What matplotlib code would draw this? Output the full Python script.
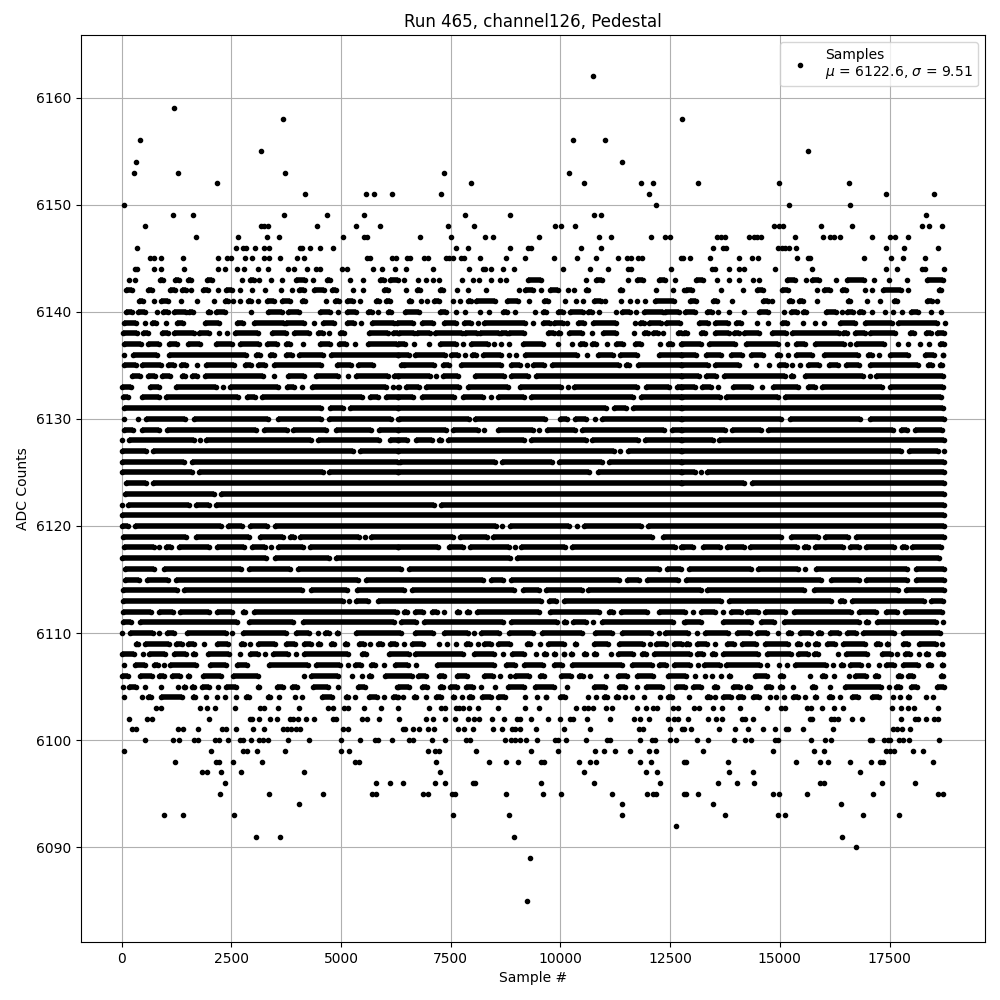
import matplotlib
matplotlib.use('Agg')
import matplotlib.pyplot as plt

# values, one list per ADC level.
# a number is a lone sample, a (first, last) pair is a stretch of samples
# too packed to tell apart, drawn as a solid stripe.
row_6162 = [10752]
row_6159 = [1186]
row_6158 = [3670, 12770]
row_6156 = [410, 10297, 11025]
row_6155 = [3170, 15637]
row_6154 = [320, 11412]
row_6153 = [274, 1277, 3716, 7341, 10206]
row_6152 = [2166, 7955, 10548, 11844, 12117, 13135, 14977, 16569]
row_6151 = [4172, 5563, 5746, 6156, 7273, 12026, 17410, 18502]
row_6150 = [68, 12185, 15205, 16592]
row_6149 = [1163, 1619, 3694, 4674, 5518, 7819, 8842, 10775, 10934, 18320]
row_6148 = [524, 3170, 3240, 3330, 4446, 5335, 5882, 7432, 8023, 9888, 10024, 10343,
            14863, 14977, 15068, 15932, 16637, 18229, 18388, 18684]
row_6147 = [1687, 2645, 3306, 3580, 5039, 5518, 5594, 6795, 7500, 8273, 8455, 9501, 10889,
            11161, 12071, 12389, 12503, 13567, 13650, 13749, 14295, 14409, 14490, 14568,
            15341, 15978, 16137, 16228, 16364, 17092, 17501, 17615, 17911]
row_6146 = [342, 2600, 2760, 2842, 3032, 3238, 3352, 4060, 4112, 4286, 4514, 4811, 7614, 7887,
            8842, 9251, 9319, 10479, 10934, 13476, 13704, 13772, 14954, 15040, 15120, 15210,
            15364, 17410, 17820, 18593]
row_6145 = [638, 730, 889, 1391, 2189, 2394, 2485, 2804, 2964, 3238, 3352, 3602, 3990, 4150,
            5594, 5670, 6156, 6247, 6500, 6568, 6886, 6977, 7387, 7455, 7546, 7743, 7796,
            8160, 8751, 9183, 9843, 10388, 10820, 11321, 11525, 11616, 11775, 11866, 12753,
            12800, 12953, 13408, 14068, 14363, 14500, 15386, 15637, 15682, 16910, 17524,
            17797, 18297]
row_6144 = [296, 350, 730, 889, 1414, 2189, 2348, 2622, 2782, 3101, 3329, 3785, 3922, 4218,
            4423, 4514, 5016, 5130, 5723, 5928, 6224, 6477, 7091, 7910, 8228, 8273, 8410,
            8683, 8933, 10070, 10684, 11093, 11548, 11616, 12526, 13454, 13522, 13840, 14068,
            14181, 14886, 15728, 17410, 17660, 18229, 18297, 18729]
row_6143 = [160, 296, (882, 935), (1224, 1300), (1505, 1588), (1946, 2060), 2736, (2934, 3010),
            3124, 3397, 3648, (3967, 4172), 4355, (4682, 4742), 5214, 5495, (5882, 5974),
            (6110, 6293), 6431, 6750, 6932, 7091, 7227, 7750, 8000, 8137, 8410, 8615, 8751,
            (9251, 9547), 10593, (10820, 10957), 11548, (11753, 11889), (12253, 12389), 12617,
            (13090, 13249), 13567, 13840, 14068, 14386, 14522, (15159, 15341), 15591,
            (15728, 15887), 16273, (16523, 16910), 17137, 17478, 17888, (18343, 18706)]
row_6142 = [(106, 243), (593, 692), (1094, 1224), (1368, 1459), 1573, (1847, 1961), 2189,
            (2371, 2508), 2690, 2964, 3260, 3625, 3876, (4036, 4150), (4378, 4606),
            (4788, 4880), 5267, 5495, (5974, 6065), 6477, (6727, 6795), (7250, 7318), 7637,
            7887, 8296, 9047, (9183, 9365), 9547, (9752, 9956), 10184, 10320, (10593, 10640),
            (11366, 11412), 12185, 12571, 12821, (12862, 12999), 13658, 14158, (14477, 14613),
            (15045, 15182), 15841, (16000, 16137), (16410, 16501), 16933, 17092,
            (17342, 17751), 17911, (18616, 18661)]
row_6141 = [(388, 479), 730, (889, 1049), 1345, 1710, 2098, (2348, 2417), 2531, 2690,
            (2873, 2941), 3101, (3306, 3466), (3648, 3830), (4104, 4172), 4651, (4856, 4948),
            (5130, 5267), 5426, (5791, 5860), (6019, 6110), (6545, 6591), 6818, 6955,
            (7114, 7227), 7546, 7720, (7887, 7955), (8069, 8501), (8774, 9024), 9274,
            (9615, 9706), 10115, 10366, 10525, (10775, 10934), 11025, 11389, 11593, 11753,
            11935, (12162, 12594), (12953, 13090), (13476, 13567), 13908, (14613, 14720), 14818,
            (15205, 15273), (15432, 15523), 15841, (16546, 16592), 16978, 17274, (17592, 17660),
            (18343, 18456), 18570]
row_6140 = [(91, 228), (365, 524), 798, (935, 1049), (1186, 1459), (1528, 1619), (1961, 2006),
            (2143, 2348), 2941, (3329, 3648), (3785, 4036), (4514, 4742), 4925, (5130, 5335),
            (5609, 5700), 5837, (6065, 6133), (6454, 6773), (7250, 7387), 7614, 7819, 8160,
            8364, (8683, 8774), 8956, 9411, (9592, 9683), (9956, 10070), (10229, 10525),
            (10640, 10729), 10889, 11275, (11412, 11593), 11730, (11912, 12344), (12389, 12708),
            (12840, 13067), (13340, 13454), 13590, 13840, 14181, (14522, 14727), 15091,
            (15250, 15386), (15523, 15591), (16046, 16273), 16410, (16523, 16660),
            (16796, 16887), 17092, 17388, 17570, 17774, (17979, 18138), 18434, 18661]
row_6139 = [(68, 319), 524, (684, 775), 1003, (1254, 1391), (1892, 2212), (2622, 2759),
            (3010, 3694), (3739, 4150), 4378, (4583, 4834), (5130, 5290), 5449, (5700, 6202),
            (6280, 6636), (6841, 7091), (7341, 7614), (7796, 7955), 8114, (8251, 9183),
            9365, (9592, 9752), (9843, 10070), 10161, (10411, 10548), (10752, 11275), 11707,
            (11821, 11912), (12026, 12299), (12412, 12731), (13158, 13363), (13522, 13817),
            (14000, 14113), 14477, 14727, (15045, 15159), 15523, 15796, 16000, (16364, 16705),
            (16933, 17547), (17683, 18570), 18752]
row_6138 = [(23, 350), (479, 593), (912, 1049), (1186, 1642), (1756, 1984), 2212, 2394,
            (2576, 3101), (3420, 3739), (3922, 4264), (4469, 4583), 4720, (4970, 5062),
            (5632, 6065), (6179, 6293), (6318, 6659), (6727, 7023), (7136, 7758), (7819, 8099),
            (8160, 8592), (8637, 8774), (8819, 9160), (9706, 9843), (9934, 10002),
            (10206, 10487), 10714, (10980, 11275), 11685, (11912, 12003), (12117, 12230), 12344,
            (12685, 12776), (12817, 12885), (13203, 13294), (13522, 13840), (13954, 14068),
            (14181, 14522), (14818, 15136), (15273, 16341), (16432, 16523), (16705, 16933),
            (17047, 17615), (17956, 18047), (18320, 18434), (18570, 18729)]
row_6137 = [(54, 441), (601, 844), (1080, 1254), (1513, 1779), (2144, 2508), (2691, 3139),
            (3314, 3534), (3755, 3846), 4127, (4515, 4758), (4948, 5115), 5313, (5609, 6278),
            (6303, 6469), 6659, 7008, (7251, 7621), 7773, (7955, 8341), 8493, 8637, 8819,
            (9145, 9592), 9956, 10267, (10457, 10562), (10722, 10820), 11070, (11268, 11426),
            (11700, 11828), 12268, (12443, 12548), 12776, (12741, 13195), (13393, 13984),
            (14227, 14954), 15167, (15364, 15576), (15804, 16470), 16599, (16744, 17380), 17683,
            17911, 18199, 18388, (18639, 18744)]
row_6136 = [68, (259, 806), (1080, 2835), (3071, 3162), (3375, 3466), (3755, 3876), (4044, 4583),
            (4781, 6293), (6303, 6545), (6697, 7379), (7516, 7659), 7826, (7986, 8076),
            (8236, 8645), 8819, 8986, (9183, 10388), 10616, (10851, 11199), (11367, 11752),
            (12238, 12776), (12741, 13097), (13317, 13665), (13886, 14135), (14348, 14613),
            (14940, 14992), 15182, (15364, 15727), (16001, 16788), (17009, 17092), 17259,
            (17517, 17926), (18298, 18517), (18714, 18721)]
row_6135 = [(54, 327), (472, 897), (1057, 1186), (1361, 1467), 1718, (1931, 2569), (2813, 2949),
            (3117, 3268), (3481, 4545), (4910, 5229), (5389, 5723), 6430, (6364, 7129),
            (7326, 7470), (7728, 8645), (8880, 9077), 9236, (9373, 9630), (9805, 11335),
            (11495, 11563), (11761, 12760), (12741, 13362), (13522, 14060), 14447, 14750,
            (14985, 15144), 15280, 15470, (15645, 15902), (16122, 16318), (16516, 16811),
            (17062, 18153), (18373, 18456), (18639, 18683)]
row_6134 = [(244, 426), (601, 768), (920, 1110), (1384, 1444), (1612, 1718), (1893, 3215), 3480,
            (3793, 4150), (4439, 4941), 5153, (5351, 6065), (6210, 6293), (6303, 7030), 7167,
            (7326, 7659), (8062, 8720), (8865, 9251), (9449, 12776), (12741, 13150),
            (13317, 13552), (13727, 15106), (15243, 15295), (15569, 16887), 17047, (17198, 18721)]
row_6133 = [(16, 213), (654, 859), (1232, 2151), 2303, (2478, 3557), (3770, 3922), 4104,
            (4340, 6027), 6187, 6300, 6333, (6493, 6787), (6947, 7697), (7895, 8796),
            (9070, 10009), 10168, (10305, 11737), (11950, 12473), (12655, 12776), (12741, 13060),
            (13219, 13438), 13590, (13939, 14348), 14598, (14833, 15424), (15645, 15803),
            (15970, 17319), (17502, 18721)]
row_6132 = [(31, 137), (472, 844), (1004, 2645), (2858, 3040), (3208, 5472), (5670, 5837),
            (6035, 6293), (6303, 6636), (6849, 7568), (7781, 8228), 8425, (8577, 9175),
            (9335, 11654), (11836, 12776), (12741, 13627), (13772, 14969), (15122, 18668)]
row_6131 = [(46, 4545), (4743, 5039), (5199, 6293), (6303, 11032), (11215, 11487), (11655, 12776),
            (12741, 18721)]
row_6130 = [46, 380, (548, 1452), (1650, 3344), (3565, 4545), (4728, 6141), 6301, (6326, 7909),
            (8062, 9653), (10002, 10161), (10336, 10593), 10790, (10942, 12776), (12741, 15030),
            (15228, 16834), (17062, 18744)]
row_6129 = [(46, 251), (472, 859), (1034, 3063), (3238, 3763), (3907, 4659), (4880, 5685),
            (5868, 6293), (6303, 7394), (7554, 8114), 8251, (8577, 9365), 9509, (9699, 10335),
            (10487, 12359), (12534, 12776), (12741, 13741), (13901, 14575), (14735, 17569),
            (17767, 17895), (18070, 18683)]
row_6128 = [8, (168, 1642), 1786, (1931, 4317), (4477, 5875), (6126, 6293), (6303, 6499),
            (6720, 7075), (7228, 7280), (7440, 9175), (9335, 10577), (10722, 11775), (11927, 12776),
            (12741, 13476), (13621, 18744)]
row_6127 = [(16, 555), (715, 5267), (5427, 6293), (6303, 11222), 11366, (11548, 12776),
            (12741, 17759), (17941, 18592), 18737]
row_6126 = [(16, 1429), (1604, 6293), (6341, 8516), (8668, 9819), (9979, 10957), (11108, 12776),
            (12741, 18744)]
row_6125 = [(0, 1596), (1764, 4583), (4728, 6293), (6303, 10653), (10851, 12776), (12741, 13059),
            13196, (13348, 18744)]
row_6124 = [(92, 555), (715, 12776), (12741, 14181), (14356, 18744)]
row_6123 = [(77, 2113), (2273, 18744)]
row_6122 = [8, (153, 1528), (1688, 2000), (2159, 7129), (7288, 18744)]
row_6121 = [(16, 18744)]
row_6120 = [(16, 137), (297, 2265), (2425, 2744), (2919, 3314), (3497, 8531), 8668, (8842, 10198),
            10381, (10548, 11828), (12003, 18744)]
row_6119 = [(31, 1467), (1688, 2911), (3147, 3671), (3831, 3922), (4074, 5419), 5548, (5693, 7545),
            (7713, 8319), (8463, 12093), (12329, 15030), (15243, 15864), (16024, 16561), (16744, 18744)]
row_6118 = [(54, 730), 852, (1019, 1125), (1308, 2000), (2174, 2782), (2980, 3268), 3398,
            (3573, 4135), (4287, 6293), (6303, 7204), (7463, 7773), (7933, 8834), 8956, (9108, 10107),
            (10260, 12609), 12784, (12741, 13021), (13257, 13627), (13787, 14181), (14318, 15394),
            (15546, 15636), (15796, 16432), (16592, 16811), (16956, 17607), (17790, 17872),
            (18017, 18668)]
row_6117 = [(0, 3291), (3489, 4735), (4895, 8849), (9017, 18630)]
row_6116 = [(69, 745), (958, 2721), (2904, 3846), (4021, 6371), (6553, 12245), (12420, 12756),
            (12938, 14332), (14508, 15409), 15584, (15819, 17895), (18108, 18744)]
row_6115 = [(69, 403), (578, 1049), (1232, 5381), (5579, 8243), (8425, 8682), (8865, 11335),
            (11518, 11790), (11973, 12685), (12863, 15939), (16175, 16811), (16956, 17895),
            (18093, 18744)]
row_6114 = [(31, 1262), (1422, 4104), (4325, 5138), (5366, 6439), (6621, 8948), (9146, 9516),
            (9676, 10486), (10639, 13211), (13348, 15545), (15773, 17698), (17866, 18744)]
row_6113 = [(31, 5039), 5183, (5351, 5609), (5845, 9554), (9729, 9895), (10078, 13665),
            (13848, 16167), (16380, 16470), (16653, 18274), (18449, 18706)]
row_6112 = [(31, 669), (852, 1163), (1323, 2000), (2174, 2508), (2767, 2812), (3010, 6255), 6272,
            (6440, 6514), (6697, 6878), (7076, 7182), 7349, (7652, 7697), (7880, 7909), (8107, 9516),
            (9752, 10881), (11116, 11199), (11382, 11980), (12238, 12847), 13014, (13196, 13514),
            13711, (13878, 14105), (14257, 14499), (14659, 15121), (15326, 16622), (16804, 17190),
            (17426, 17660), (17843, 18683)]
row_6111 = [(31, 227), (426, 2622), (2904, 3899), (4135, 6217), (6377, 6712), (6894, 8682),
            (8880, 9933), (10093, 10122), (10283, 10593), 10752, (10942, 12563), 12806,
            (12840, 13211), (13696, 14348), (14561, 14863), (15099, 16811), (16971, 17016),
            (17214, 18555), 18714]
row_6110 = [8, (198, 707), 852, (1034, 1186), (1490, 2379), 2515, (2767, 3747), (3968, 4279), 4477,
            (4644, 4735), (4910, 4941), (5351, 6371), (6682, 7091), (7349, 7886), 8023, (8198, 8607),
            (8827, 9365), (9578, 10502), (10790, 11184), (11397, 12055), 12253, (12390, 12907), 13105,
            (13295, 13817), (14030, 14310), (14485, 14711), 14954, (15190, 15257), (15470, 15712),
            (15872, 15939), (16137, 16356), (16531, 16735), (16895, 17592), (17805, 18653)]
row_6109 = [(320, 380), (533, 1072), (1247, 1368), (1521, 1657), 1885, (2174, 2432), (2729, 2797),
            2919, (3109, 3504), (3755, 3952), (4158, 4317), (4477, 4522), (4781, 4849), (5085, 5130),
            (5412, 5518), 5655, (5845, 5928), (6111, 6255), 6432, (6621, 6878), 7227, 7424, 7614,
            (7857, 7947), 8122, (8259, 8425), (8577, 8849), (9244, 9304), 9539, (9714, 10085),
            (10336, 10365), (10760, 11093), (11329, 11881), 12033, (12178, 12397), (12579, 12776),
            (12863, 12930), (13120, 13347), 13529, (13803, 13953), (14144, 14446), (14659, 15181),
            (15394, 15469), (15622, 15651), (15796, 15864), (16077, 16258), (16440, 16940),
            (17183, 17289), (17441, 17471), (17805, 17910), (18161, 18555), 18691]
row_6108 = [(16, 289), 479, (624, 988), (1194, 1467), (1627, 1672), (1969, 2455), 2706, (2934, 3101),
            3261, (3451, 3785), 3975, (4158, 5153), (5488, 5571), (6096, 6545), (6697, 7788),
            (8031, 8478), 8683, (8895, 9175), 9433, (9623, 9683), (9851, 9880), (10078, 10092),
            (10245, 10274), (10548, 10593), (10775, 10805), 11146, (11306, 11654), (11852, 11942),
            (12139, 12961), (13120, 13249), (13446, 13514), (13696, 14499), (14712, 15257),
            (15417, 15651), (15773, 15864), 16327, (16516, 16978), (17327, 17531), 17661,
            (17843, 17971), 18160, (18335, 18380), (18601, 18721)]
row_6107 = [61, (305, 540), (730, 821), 973, (1110, 1695), (2007, 2387), (2630, 2858), (3360, 4241),
            (4439, 4986), 5153, (5313, 5457), (5693, 5776), 5974, (6225, 6522), 6704, (7197, 8493),
            (8751, 8970), (9168, 9592), (9851, 10047), (10260, 11396), (11624, 12093), (12254, 12397),
            (12579, 12945), 13135, (13280, 13627), (13772, 14537), 14712, 14977, 15159, (15341, 16053),
            16205, (16403, 16432), (16607, 16849), 16999, 17251, (17426, 17607), (17805, 18138),
            (18373, 18441), (18684, 18721)]
row_6106 = [(16, 152), (411, 684), (852, 958), (1156, 1323), (1521, 1543), (1855, 2265), (2539, 3116),
            4150, (4325, 4940), 5251, 5472, (5640, 5685), (5997, 6620), (6758, 6939), (7228, 7356),
            (7652, 7864), (8259, 8455), 8622, 8860, (8971, 9274), (9540, 9630), (10017, 10236),
            (10434, 10517), 10665, 11050, (11321, 11525), (11745, 12109), (12443, 12862), 13059,
            13287, 13461, 13651, (13833, 13855), (14424, 14711), (15008, 15068), 15682, (15970, 16030),
            16243, 16570, (16713, 16970), (17161, 17228), (17691, 17759), (17919, 18039), (18677, 18706)]
row_6105 = [23, (168, 327), 540, 897, 1277, (1414, 1444), (1612, 1642), (1840, 2000), 2204, (2372, 2615),
            (3109, 3139), (3542, 3671), (3892, 3990), (4363, 4712), 4933, (5389, 5556), 6286, (6303, 6560),
            (6849, 6954), (7251, 7318), (7478, 7636), (7857, 8000), 8182, 8501, (8805, 9175), (9411, 9857),
            10161, (10776, 11017), (11344, 11472), 11737, (11950, 12321), (12632, 12832), (13029, 13195),
            (13499, 13567), (13939, 14083), (14242, 14310), (14682, 14787), (15000, 15045), 15295,
            (15743, 15803), 16137, (16494, 17304), 17478, (17653, 17744), (17994, 18122), (18578, 18729)]
row_6104 = [46, 456, (609, 669), (905, 1368), (1627, 1672), 1915, 2174, 2356, 2600, (2828, 2903), (3337, 3390),
            3580, 3945, 4112, (4568, 4788), (5115, 5168), 5313, (5640, 5822), 5974, (6187, 6278), 6295, 6409,
            (6667, 6712), 6939, (7175, 7280), (7554, 7583), 7750, (7918, 7985), (8213, 8417), (8577, 8728), 9191,
            9456, (9676, 9683), (10000, 10107), 10639, 10820, (11003, 11070), (11268, 11313), 11465, 11624, 11912,
            12276, (12443, 12533), 12930, (13333, 13400), 13522, (13712, 13893), (14053, 14158), (14379, 14522),
            14772, 14917, 15091, (15304, 15409), 15568, (15804, 15833), (16122, 16182), 16364, (16645, 16773),
            (17107, 17259), 17570, 17728, (17919, 17948), 18320, 18479]
row_6103 = [790, 897, 1778, 1953, 2120, 2576, 3162, 3253, 3572, 4036, 4697, 4818, 5062, 5153, 5518, 5905,
            6293, 7000, 7288, 7364, 7614, 7682, 7788, 7910, 8114, 8569, 9183, 9517, 10366, 10548, 10639, 10752,
            11048, 11184, 11738, 11957, 12117, 12208, 12571, 12685, 13044, 13158, 13476, 13681, 14090, 14704,
            15015, 15106, 15614, 15705, 15955, 16228, 16433, 17547, 17751, 17911, 18047, 18593]
row_6102 = [182, 570, 684, 1984, 2918, 2972, 3124, 3390, 3534, 3846, 3906, 4013, 4195, 4378, 4811, 4879, 5472,
            5601, 5860, 6316, 6932, 7091, 7364, 7591, 7887, 8023, 8137, 8433, 8706, 9009, 9085, 9320, 9706, 10002,
            10229, 10297, 10616, 11139, 11684, 11821, 12026, 12458, 12594, 12685, 12908, 13363, 13544, 13681, 14143,
            14196, 14386, 15682, 15728, 16160, 16228, 16319, 16637, 16864, 17751, 18070, 18138, 18320, 18502, 18593]
row_6101 = [228, 319, 1277, 1391, 1733, 2280, 2371, 2599, 2987, 3238, 3671, 3762, 3853, 3967, 4058, 5039, 5168,
            6409, 6469, 6636, 6773, 6977, 7114, 7659, 7796, 8001, 8455, 8660, 8887, 8956, 9069, 9433, 10093, 10684,
            11798, 11889, 12503, 12776, 12817, 12976, 13613, 13977, 14272, 14613, 14886, 15136, 15182, 15523, 16205,
            17570, 17660, 17774, 17956]
row_6100 = [524, 1163, 1315, 1642, 1733, 2120, 2212, 2417, 2690, 2759, 2941, 3124, 3215, 3329, 3785, 4264, 4993,
            5426, 5768, 5837, 6156, 6545, 6636, 7068, 7364, 7841, 7932, 8728, 8865, 8956, 9069, 9206, 9456, 9888,
            9956, 10138, 10593, 11070, 11139, 11821, 12094, 12162, 12503, 12640, 13112, 13363, 13954, 14204, 14340,
            14886, 14954, 15705, 16023, 16160, 17047, 17092, 17365, 17456, 17501, 17706, 17797, 17933, 18615]
row_6099 = [46, 2029, 2759, 2850, 3078, 3716, 4993, 5176, 6977, 7136, 7227, 8069, 9319, 9956, 10798, 11002, 11252,
            11593, 12026, 12185, 13249, 14841, 15773, 16000, 17410, 17500, 17592, 18024, 18252]
row_6098 = [1208, 2143, 2212, 2531, 3192, 5312, 5403, 7159, 8364, 8751, 9024, 9547, 9615, 10434, 10684, 10820,
            11821, 12071, 12821, 12862, 13817, 15364, 15909, 16091, 16592, 17069, 17274, 17342, 18479]
row_6097 = [1824, 1938, 2257, 2713, 4150, 7250, 10548, 11957, 12208, 13840, 14386, 16819]
row_6096 = [2348, 5791, 6110, 6409, 7136, 7364, 8001, 8046, 9547, 10775, 12276, 13590, 14022, 14409, 15909, 16000,
            17319, 18070]
row_6095 = [2234, 3352, 4583, 5700, 5791, 6864, 6977, 7523, 7591, 8751, 9592, 10024, 11184, 11980, 12117, 12185,
            12821, 12862, 13135, 14841, 14977, 15614, 17115, 18593, 18707]
row_6094 = [4036, 11412, 13476, 16387]
row_6093 = [958, 1391, 2554, 7546, 8819, 11412, 13749, 14954, 15114, 16887, 17706]
row_6092 = [12640]
row_6091 = [3055, 3602, 8933, 16410]
row_6090 = [16728]
row_6089 = [9297]
row_6085 = [9229]

run_label = 'Samples\n$\\mu$ = 6122.6, $\\sigma$ = 9.51'

rows = {int(k[4:]): v for k, v in list(globals().items()) if k.startswith('row_')}

xs, ys = [], []
stripe_y, stripe_a, stripe_b = [], [], []
for level, items in rows.items():
    for item in items:
        if isinstance(item, tuple):
            stripe_y.append(level)
            stripe_a.append(item[0])
            stripe_b.append(item[1])
            xs += list(item)
            ys += [level, level]
        else:
            xs.append(item)
            ys.append(level)

fig, ax = plt.subplots(figsize=(10, 10), dpi=100)
ax.hlines(stripe_y, stripe_a, stripe_b, colors='k', lw=4, zorder=2)
ax.plot(xs, ys, 'k.', label=run_label)
ax.set_xlim(-923, 19674)
ax.set_ylim(6081.15, 6165.85)
ax.set_title('Run 465, channel126, Pedestal')
ax.set_xlabel('Sample #')
ax.set_ylabel('ADC Counts')
ax.grid(True)
ax.legend(loc='upper right')
fig.subplots_adjust(left=0.081, right=0.985, top=0.965, bottom=0.058)
plt.savefig('out.png')
